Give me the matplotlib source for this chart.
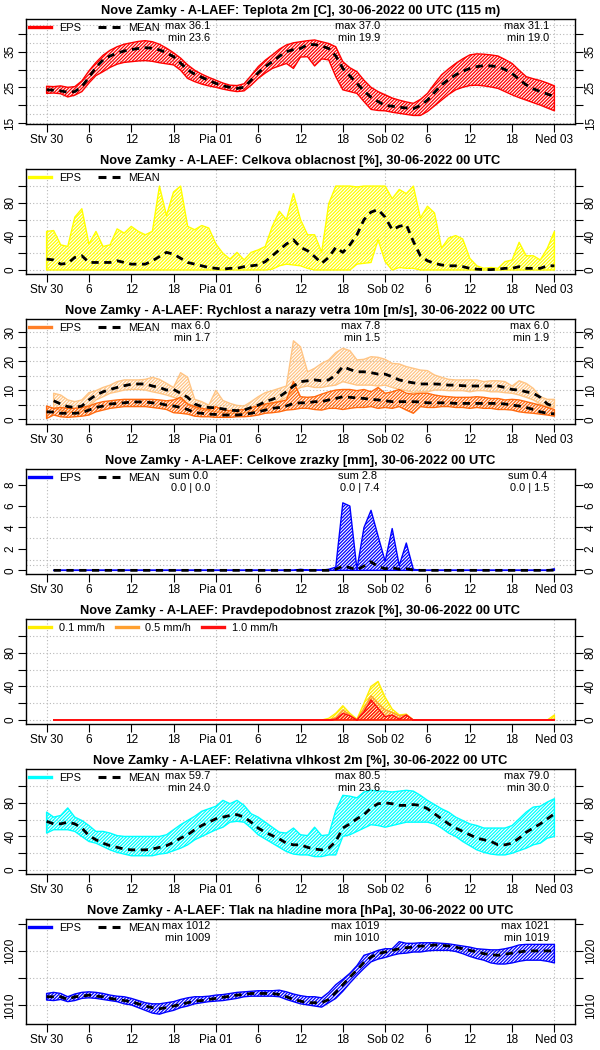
import numpy as np
import matplotlib
matplotlib.use('Agg')
import matplotlib.pyplot as plt
from matplotlib.lines import Line2D

plt.rcParams['font.family'] = ['Liberation Sans', 'DejaVu Sans']
plt.rcParams['hatch.linewidth'] = 0.9

# ---------------- data ----------------
hours = np.arange(0, 73)
hours_acc = np.arange(1, 73)
xtick_hours = [0, 6, 12, 18, 24, 30, 36, 42, 48, 54, 60, 66, 72]
xtick_labels = ['Stv 30', '6', '12', '18', 'Pia 01', '6', '12', '18', 'Sob 02', '6', '12', '18', 'Ned 03']
day_end_hours = [23.25, 47.25, 71.25]

temp_upper = [25.3, 25.2, 25.4, 25.0, 25.2, 26.8, 29.6, 32.0, 34.0, 35.4, 36.4, 37.1, 37.5, 37.9, 38.1, 37.8,
              37.1, 36.0, 34.7, 33.2, 31.3, 29.8, 28.7, 27.8, 27.0, 26.2, 25.6, 25.5, 26.0, 28.3, 30.8, 32.6,
              34.1, 35.7, 36.9, 37.5, 37.8, 38.1, 38.3, 37.8, 37.3, 36.4, 32.2, 30.5, 29.4, 27.0, 25.0, 23.8,
              22.9, 22.0, 21.4, 20.9, 20.5, 21.6, 23.3, 26.0, 28.5, 30.2, 31.7, 33.0, 34.1, 34.4, 34.3, 34.1,
              33.8, 32.8, 31.7, 29.8, 28.0, 27.4, 26.9, 26.2, 25.4]
temp_mean = [24.3, 24.2, 24.0, 23.6, 23.8, 25.2, 27.8, 30.6, 32.7, 33.8, 34.6, 35.2, 35.6, 35.9, 36.1, 36.0,
             35.5, 34.7, 33.6, 31.8, 29.9, 28.7, 27.8, 26.9, 26.1, 25.4, 25.0, 24.7, 25.0, 27.0, 29.1, 30.8,
             32.2, 33.7, 35.0, 35.6, 35.9, 37.0, 37.0, 36.6, 35.9, 33.8, 30.3, 28.2, 26.1, 24.0, 22.2, 21.0,
             19.9, 19.7, 19.4, 19.2, 19.0, 19.9, 21.4, 23.6, 25.7, 27.2, 28.5, 29.5, 30.3, 30.8, 31.1, 31.0,
             30.8, 30.0, 28.9, 27.2, 25.7, 24.6, 23.8, 23.1, 22.4]
temp_lower = [23.3, 23.4, 23.2, 22.3, 22.8, 23.8, 26.2, 28.3, 29.4, 30.6, 31.5, 32.0, 32.2, 32.4, 32.5, 32.3,
              31.9, 31.6, 31.3, 29.8, 27.5, 26.6, 25.9, 25.4, 25.0, 24.5, 24.1, 23.8, 24.0, 25.6, 27.5, 29.0,
              30.3, 31.0, 31.7, 30.3, 33.5, 33.6, 31.0, 33.0, 32.7, 28.0, 24.3, 23.8, 23.3, 21.0, 18.8, 18.5,
              18.4, 18.0, 17.7, 17.4, 17.1, 17.1, 18.2, 19.8, 21.4, 23.0, 24.3, 25.0, 25.5, 25.6, 25.4, 25.1,
              24.7, 23.8, 22.9, 22.1, 21.4, 20.7, 20.0, 19.2, 18.4]
temp_max = ['36.1', '37.0', '31.1']
temp_min = ['23.6', '19.9', '19.0']

cloud_upper = [46, 47, 30, 28, 63, 73, 31, 46, 28, 30, 49, 44, 52, 46, 42, 46, 100, 65, 93, 100, 52, 48, 53, 50,
               31, 20, 13, 21, 12, 21, 24, 28, 52, 70, 60, 91, 60, 42, 42, 21, 79, 100, 100, 100, 99, 100, 100,
               100, 100, 85, 96, 91, 100, 62, 76, 68, 26, 38, 41, 37, 14, 5, 2, 3, 2, 10, 12, 33, 17, 17, 12, 26, 46]
cloud_mean = [13, 12, 7, 8, 15, 17, 9, 9, 9, 9, 11, 9, 7, 7, 7, 11, 16, 21, 19, 14, 9, 7, 5, 3,
              2, 1, 2, 2, 4, 5, 6, 10, 17, 24, 31, 36, 27, 23, 16, 8, 15, 27, 21, 30, 42, 60, 69,
              72, 63, 48, 52, 54, 34, 17, 11, 8, 6, 5, 5, 4, 2, 1, 0.5, 0.5, 1, 2, 2, 4, 2, 2, 2, 5, 5]
cloud_lower = [0, 0, 0, 0, 0, 0, 0, 0, 0, 0, 0, 0, 0, 0, 0, 0, 0, 0, 0, 0, 0, 0, 0, 0,
               0, 0, 0, 0, 0, 0, 0, 0, 1, 5, 7, 6, 5, 2, 0, 0, 0, 0, 0, 0, 7, 8, 9,
               36, 10, 0, 3, 2, 2, 0, 0, 0, 0, 0, 0, 0, 0, 0, 0, 0, 0, 0, 0, 0, 0, 0, 0, 0, 0]

gust_upper = [9.0, 8.4, 6.7, 6.1, 6.7, 9.2, 9.9, 11.0, 11.8, 13.0, 13.6, 13.6, 13.6, 13.8, 14.5, 13.8, 12.4, 11.0,
              16.1, 14.5, 6.9, 6.1, 4.9, 10.0, 6.5, 5.5, 4.8, 4.6, 6.1, 7.8, 9.2, 9.9, 10.7, 11.5, 27.1, 25.0,
              16.4, 17.6, 19.3, 20.5, 23.0, 24.5, 23.7, 20.5, 20.7, 21.6, 21.4, 20.7, 19.3, 19.1, 18.2, 17.6, 17.0,
              16.8, 15.3, 14.5, 13.8, 13.6, 13.6, 13.6, 13.6, 13.0, 13.3, 13.3, 13.0, 11.5, 13.3, 12.4, 10.7, 7.8,
              6.9, 6.9]
gust_mean = [6.4, 5.3, 4.4, 4.1, 4.6, 6.7, 8.4, 9.5, 10.3, 11.0, 11.6, 12.1, 12.2, 12.2, 11.5, 11.0, 10.1, 10.3,
             9.0, 7.6, 5.3, 4.4, 4.1, 4.0, 3.6, 3.2, 3.0, 3.2, 4.1, 4.9, 6.1, 6.9, 7.8, 9.5, 11.5, 13.0,
             13.3, 13.6, 13.3, 13.6, 15.3, 18.2, 17.2, 16.4, 16.4, 16.1, 15.6, 15.6, 14.7, 13.6, 13.0, 12.6, 12.2,
             12.2, 12.2, 12.1, 11.8, 11.8, 11.6, 11.5, 11.5, 11.5, 11.5, 11.5, 11.0, 10.3, 10.1, 9.5, 9.0, 7.6,
             5.3, 4.4]
gust_lower = [3.8, 3.2, 2.6, 2.3, 2.6, 4.4, 6.7, 7.8, 9.0, 9.5, 10.1, 10.3, 10.3, 10.1, 9.5, 9.0, 8.4, 7.6,
              6.9, 5.3, 3.8, 3.2, 3.0, 2.6, 2.3, 2.1, 2.1, 2.3, 2.6, 3.2, 4.1, 5.3, 6.4, 7.6, 9.5, 11.0,
              11.5, 11.0, 11.0, 11.5, 11.8, 13.0, 12.4, 11.8, 11.8, 11.8, 11.5, 11.8, 11.0, 10.3, 9.9, 9.2, 9.5,
              9.5, 10.1, 10.1, 9.9, 9.9, 9.9, 9.5, 9.9, 9.9, 9.5, 9.5, 9.2, 9.0, 8.4, 7.6, 6.7, 5.3,
              4.4, 4.1]
wind_upper = [4.6, 3.8, 4.1, 3.8, 3.8, 4.1, 4.6, 5.5, 6.1, 6.4, 6.7, 6.9, 6.9, 6.9, 6.9, 6.9, 6.7, 6.4, 6.7,
              7.6, 5.3, 4.4, 3.8, 3.4, 4.4, 3.2, 3.0, 3.2, 3.4, 4.1, 4.6, 5.3, 5.7, 6.1, 6.7, 13.0, 7.8,
              7.6, 7.8, 8.7, 9.5, 10.1, 10.3, 10.3, 9.9, 10.3, 9.5, 11.0, 9.0, 9.5, 10.3, 9.0, 8.7, 9.0,
              9.0, 8.4, 8.0, 7.8, 7.6, 7.6, 7.6, 7.8, 7.6, 7.2, 7.2, 6.7, 6.9, 6.7, 6.1, 5.5, 4.9, 4.1, 3.4]
wind_mean = [2.6, 2.5, 2.1, 2.1, 2.1, 2.3, 3.2, 4.1, 4.6, 5.3, 5.5, 5.7, 6.0, 6.0, 6.0, 5.7, 5.5, 4.9, 4.6,
             4.1, 3.4, 2.3, 2.1, 1.8, 1.7, 1.5, 1.5, 1.5, 1.7, 2.1, 2.6, 3.2, 3.8, 4.1, 4.6, 5.5, 5.7,
             5.7, 6.1, 6.1, 6.7, 7.2, 7.8, 7.6, 7.4, 7.2, 6.9, 6.7, 6.4, 6.1, 6.1, 6.1, 6.1, 6.0,
             5.7, 5.7, 5.7, 5.7, 5.5, 5.5, 5.5, 5.5, 5.5, 5.5, 5.5, 5.3, 4.9, 4.6, 4.1, 3.4, 2.6, 2.1, 1.9]
wind_lower = [0.3, 1.5, 0.9, 0.7, 0.9, 1.1, 1.5, 2.6, 3.2, 3.8, 4.1, 4.4, 4.4, 4.4, 4.4, 4.1, 3.8, 3.4, 2.3,
              2.1, 1.8, 1.1, 0.9, 0.9, 0.7, 0.7, 0.7, 0.9, 0.9, 1.1, 1.5, 2.1, 2.3, 2.6, 3.2, 3.4, 3.8,
              3.8, 3.4, 3.2, 3.8, 3.8, 3.4, 3.8, 4.1, 4.1, 4.4, 3.8, 4.1, 3.8, 4.4, 3.2, 2.1, 4.4,
              4.1, 4.1, 4.4, 4.4, 4.1, 4.1, 3.8, 4.1, 3.8, 3.8, 3.4, 3.4, 3.2, 2.6, 2.3, 2.1, 1.8, 1.5, 1.1]
wind_max = ['6.0', '7.8', '6.0']
wind_min = ['1.7', '1.5', '1.9']

precip_upper = [0, 0, 0, 0, 0, 0, 0, 0, 0, 0, 0, 0, 0, 0, 0, 0, 0, 0, 0, 0, 0, 0, 0, 0,
                0, 0, 0, 0, 0, 0, 0, 0, 0, 0, 0, 0.1, 0.02, 0.02, 0.02, 0.1, 0.3, 6.3, 6.0, 0.1, 4.0, 5.6,
                3.2, 0.85, 3.9, 0.45, 2.55, 0.1, 0, 0, 0, 0, 0, 0, 0, 0, 0, 0, 0, 0, 0, 0, 0, 0, 0, 0, 0, 0.15]
precip_mean = [0, 0, 0, 0, 0, 0, 0, 0, 0, 0, 0, 0, 0, 0, 0, 0, 0, 0, 0, 0, 0, 0, 0, 0,
               0, 0, 0, 0, 0, 0, 0, 0, 0, 0, 0, 0, 0, 0, 0, 0, 0.1, 0.4, 0.25, 0.05, 0.4, 0.8,
               0.35, 0.15, 0.25, 0.1, 0.15, 0.03, 0, 0, 0, 0, 0, 0, 0, 0, 0, 0, 0, 0, 0, 0, 0, 0, 0, 0, 0, 0.02]
precip_lower = [0] * 72
precip_sum = ['0.0', '2.8', '0.4']
precip_range = ['0.0 | 0.0', '0.0 | 7.4', '0.0 | 1.5']

prob_01 = [0] * 39 + [2, 8, 17, 8, 1, 20, 40, 46, 27, 13, 6, 7, 0] + [0] * 19 + [6]
prob_05 = [0] * 39 + [0, 3, 12, 6, 0, 14, 29, 20, 12, 9, 5, 6, 0] + [0] * 19 + [1]
prob_10 = [0] * 39 + [0, 1, 8, 5, 0, 10, 24, 14, 4, 6, 1, 6, 0] + [0] * 19 + [0]

rh_upper = [69, 63, 65, 74, 63, 59, 53, 46, 46, 44, 41, 40, 40, 40, 40, 40, 40, 42, 48, 54, 59, 64, 70, 73,
            76, 83, 79, 83, 77, 67, 63, 57, 51, 45, 44, 50, 42, 41, 51, 41, 42, 71, 89, 88, 86, 93, 95,
            94, 94, 93, 94, 95, 94, 89, 83, 78, 73, 69, 63, 59, 55, 53, 50, 50, 50, 50, 53, 61, 69, 75, 76, 81, 85]
rh_mean = [58, 55, 55, 57, 55, 50, 41, 36, 32, 29, 27, 25, 24, 24, 24, 25, 27, 29, 33, 38, 42, 48, 53, 57,
           61, 63, 65, 66, 63, 57, 50, 45, 41, 37, 32, 30, 30, 27, 25, 24, 26, 34, 50, 55, 61, 66, 74,
           79, 80, 79, 77, 77, 78, 77, 73, 67, 61, 55, 50, 46, 42, 38, 36, 34, 30, 30, 32, 38, 45, 50, 55, 61, 67]
rh_lower = [44, 48, 48, 48, 46, 40, 34, 32, 28, 24, 21, 19, 17, 17, 17, 17, 19, 20, 23, 26, 30, 36, 40, 44,
            48, 51, 57, 58, 57, 50, 42, 37, 32, 27, 22, 19, 18, 18, 16, 16, 18, 18, 40, 42, 46, 50, 54,
            53, 51, 53, 55, 57, 57, 57, 57, 55, 50, 44, 40, 34, 29, 24, 21, 19, 18, 18, 20, 23, 26, 30, 32, 38, 40]
rh_max = ['59.7', '80.5', '79.0']
rh_min = ['24.0', '23.6', '30.0']

pres_upper = [1012.2, 1012.4, 1012.2, 1011.6, 1012.1, 1012.4, 1012.5, 1012.4, 1012.2, 1011.9, 1011.7, 1011.6,
              1011.3, 1010.9, 1010.5, 1010.3, 1010.3, 1010.5, 1010.7, 1011.1, 1011.4, 1011.6, 1011.6, 1011.7,
              1011.9, 1012.0, 1012.2, 1012.4, 1012.5, 1012.6, 1012.7, 1012.7, 1012.7, 1012.8, 1012.5, 1012.1,
              1011.8, 1011.6, 1011.6, 1011.4, 1012.4, 1013.8, 1014.8, 1015.9, 1017.3, 1019.2, 1019.6, 1020.1,
              1020.4, 1020.4, 1021.7, 1021.4, 1021.4, 1021.5, 1021.5, 1021.5, 1021.4, 1021.3, 1021.1, 1020.9,
              1020.7, 1020.4, 1020.3, 1020.2, 1020.2, 1020.4, 1020.7, 1021.1, 1021.2, 1021.2, 1021.2, 1021.2, 1021.2]
pres_mean = [1011.6, 1011.6, 1011.6, 1011.1, 1011.6, 1011.7, 1011.9, 1011.7, 1011.6, 1011.3, 1011.1, 1010.9,
             1010.7, 1010.3, 1009.9, 1009.6, 1009.4, 1009.6, 1009.9, 1010.2, 1010.5, 1010.8, 1010.9, 1011.1,
             1011.3, 1011.5, 1011.7, 1011.9, 1012.0, 1012.2, 1012.2, 1012.2, 1012.2, 1012.0, 1011.6, 1011.1,
             1010.8, 1010.5, 1010.5, 1010.5, 1011.1, 1012.4, 1013.8, 1015.2, 1016.5, 1017.9, 1018.9, 1019.5,
             1019.8, 1020.1, 1020.4, 1020.6, 1020.7, 1020.9, 1020.9, 1021.1, 1021.0, 1020.9, 1020.7, 1020.4,
             1020.1, 1019.8, 1019.5, 1019.3, 1019.2, 1019.4, 1019.6, 1019.8, 1020.0, 1020.0, 1020.0, 1020.0, 1020.0]
pres_lower = [1011.0, 1010.9, 1011.1, 1010.7, 1010.9, 1011.3, 1011.4, 1011.3, 1011.1, 1010.9, 1010.7, 1010.3,
              1010.1, 1009.6, 1009.1, 1008.6, 1008.4, 1008.8, 1009.1, 1009.6, 1009.9, 1010.3, 1010.5, 1010.7,
              1010.8, 1010.9, 1011.1, 1011.3, 1011.6, 1011.7, 1011.7, 1011.7, 1011.7, 1011.6, 1011.1, 1010.7,
              1010.3, 1010.1, 1009.9, 1009.7, 1010.5, 1011.3, 1012.6, 1014.1, 1015.5, 1016.8, 1018.0, 1018.5,
              1018.8, 1019.2, 1019.5, 1019.6, 1019.8, 1019.8, 1020.0, 1020.1, 1020.1, 1020.1, 1019.9, 1019.5,
              1019.0, 1018.6, 1018.3, 1017.8, 1017.6, 1017.6, 1017.8, 1018.1, 1018.3, 1018.3, 1018.3, 1018.1, 1017.8]
pres_max = ['1012', '1019', '1021']
pres_min = ['1009', '1010', '1019']

# ---------------- styling ----------------
W, H = 600, 1050
fig = plt.figure(figsize=(6, 10.5), dpi=100)
FS_TICK = 8.5
FS_TXT = 7.9
HATCH = '/' * 10
GRID = dict(color='#b8b8b8', lw=0.8, ls=(0, (1, 2)), zorder=0.5)
DASH = dict(color='black', lw=2.0, dashes=(2.6, 2.0), zorder=6)


def make_ax(k, title, ylim, yticks, ylabels, gridy):
    top = 19.3 + 150 * k
    bottom = 124 + 150 * k
    ax = fig.add_axes([26 / W, 1 - bottom / H, (575 - 26) / W, (bottom - top) / H])
    ax.set_xlim(-2.92, 74.92)
    ax.set_ylim(*ylim)
    for g in gridy:
        ax.axhline(g, **GRID)
    for d in (0, 24, 48, 72):
        ax.axvline(d, **GRID)
    ax.set_xticks(xtick_hours)
    ax.set_xticklabels(xtick_labels)
    ax.set_yticks(yticks)
    ax.set_yticklabels(ylabels)
    ax.tick_params(direction='out', length=6, width=0.8, labelsize=FS_TICK, pad=1.5,
                   right=True, labelright=True)
    ax.tick_params(axis='y', labelrotation=90, pad=1)
    for t in ax.yaxis.get_major_ticks():
        t.label1.set_va('center')
        t.label2.set_va('center')
    for s in ax.spines.values():
        s.set_linewidth(1.0)
    ax.set_title(title, fontsize=9.3, fontweight='bold', pad=3.5)
    return ax


def band(ax, x, lo, hi, color, z=2):
    ax.fill_between(x, lo, hi, facecolor='none', edgecolor=color, hatch=HATCH, lw=1.0, zorder=z)


def legend(ax, items, colspace=1.6):
    handles = []
    for lab, col, kind in items:
        if kind == 'solid':
            handles.append(Line2D([], [], color=col, lw=2.4, label=lab))
        else:
            handles.append(Line2D([], [], color=col, lw=2.2, dashes=(2.6, 2.0), label=lab))
    ax.legend(handles=handles, loc='upper left', ncol=len(items), frameon=False, fontsize=FS_TXT,
              handlelength=2.0, handletextpad=0.7, columnspacing=colspace, borderaxespad=0.15,
              borderpad=0.15)


def stats(ax, line1, line2, dx2=0.0):
    for i, h in enumerate(day_end_hours):
        ax.text(h - dx2, 0.94, line1[i], transform=ax.get_xaxis_transform(), ha='right', va='center',
                fontsize=FS_TXT, zorder=7)
        ax.text(h, 0.82, line2[i], transform=ax.get_xaxis_transform(), ha='right', va='center',
                fontsize=FS_TXT, zorder=7)


T = 'Nove Zamky - A-LAEF: '
# 1 temperature
ax = make_ax(0, T + 'Teplota 2m [C], 30-06-2022 00 UTC (115 m)', (14.7, 44.1),
             [15, 20, 25, 30, 35, 40], ['15', '', '25', '', '35', ''], np.arange(15, 43, 2.5))
band(ax, hours, temp_lower, temp_upper, '#ff0000')
ax.plot(hours, temp_mean, **DASH)
legend(ax, [('EPS', '#ff0000', 'solid'), ('MEAN', 'black', 'dash')])
stats(ax, ['max ' + v for v in temp_max], ['min ' + v for v in temp_min])

# 2 cloud
ax = make_ax(1, T + 'Celkova oblacnost [%], 30-06-2022 00 UTC', (-4.75, 120),
             [0, 20, 40, 60, 80, 100], ['0', '', '40', '', '80', ''], [0, 20, 40, 60, 80, 100])
band(ax, hours, cloud_lower, cloud_upper, '#ffff00')
ax.plot(hours, cloud_mean, **DASH)
legend(ax, [('EPS', '#ffff00', 'solid'), ('MEAN', 'black', 'dash')])

# 3 wind
ax = make_ax(2, T + 'Rychlost a narazy vetra 10m [m/s], 30-06-2022 00 UTC', (-1.6, 34.5),
             [0, 5, 10, 15, 20, 25, 30], ['0', '', '10', '', '20', '', '30'], [0, 5, 10, 15, 20, 25, 30])
band(ax, hours_acc, gust_lower, gust_upper, '#ffc585')
band(ax, hours, wind_lower, wind_upper, '#ff6a10', z=3)
ax.plot(hours_acc, gust_mean, **DASH)
ax.plot(hours, wind_mean, **DASH)
legend(ax, [('EPS', '#ff7f27', 'solid'), ('MEAN', 'black', 'dash')])
stats(ax, ['max ' + v for v in wind_max], ['min ' + v for v in wind_min])

# 4 precipitation
ax = make_ax(3, T + 'Celkove zrazky [mm], 30-06-2022 00 UTC', (-0.34, 9.43),
             [0, 2, 4, 6, 8], ['0', '2', '4', '6', '8'], [0.5, 1, 3, 5])
band(ax, hours_acc, precip_lower, precip_upper, '#0000ff')
ax.plot(hours_acc, precip_mean, **DASH)
legend(ax, [('EPS', '#0000ff', 'solid'), ('MEAN', 'black', 'dash')])
stats(ax, ['sum ' + v for v in precip_sum], precip_range, dx2=0.35)

# 5 probability
ax = make_ax(4, T + 'Pravdepodobnost zrazok [%], 30-06-2022 00 UTC', (-4.75, 120),
             [0, 20, 40, 60, 80, 100], ['0', '', '40', '', '80', ''], [0, 20, 40, 60, 80, 100])
band(ax, hours_acc, [0] * 72, prob_01, '#ffee00', z=2)
band(ax, hours_acc, [0] * 72, prob_05, '#ffa030', z=3)
band(ax, hours_acc, [0] * 72, prob_10, '#ff1010', z=4)
legend(ax, [('0.1 mm/h', '#ffee00', 'solid'), ('0.5 mm/h', '#ffa030', 'solid'),
            ('1.0 mm/h', '#ff1010', 'solid')], colspace=1.0)

# 6 relative humidity
ax = make_ax(5, T + 'Relativna vlhkost 2m [%], 30-06-2022 00 UTC', (-4.75, 120),
             [0, 20, 40, 60, 80, 100], ['0', '', '40', '', '80', ''], [0, 20, 40, 60, 80, 100])
band(ax, hours, rh_lower, rh_upper, '#00ffff')
ax.plot(hours, rh_mean, **DASH)
legend(ax, [('EPS', '#00ffff', 'solid'), ('MEAN', 'black', 'dash')])
stats(ax, ['max ' + v for v in rh_max], ['min ' + v for v in rh_min])

# 7 pressure
ax = make_ax(6, T + 'Tlak na hladine mora [hPa], 30-06-2022 00 UTC', (1006.6, 1025.8),
             [1010, 1015, 1020, 1025], ['1010', '', '1020', ''], [1010, 1015, 1020])
band(ax, hours, pres_lower, pres_upper, '#0000ff')
ax.plot(hours, pres_mean, **DASH)
legend(ax, [('EPS', '#0000ff', 'solid'), ('MEAN', 'black', 'dash')])
stats(ax, ['max ' + v for v in pres_max], ['min ' + v for v in pres_min])

fig.savefig('out.png', dpi=100)
